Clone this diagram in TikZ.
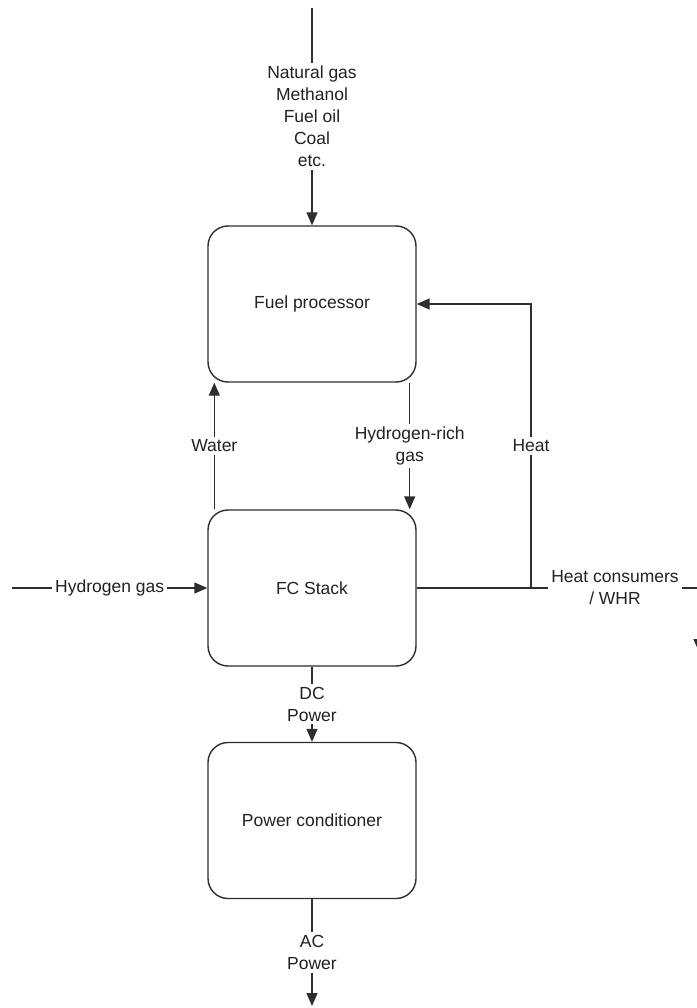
\documentclass[tikz,border=0pt]{standalone}
\usepackage{fontspec}
\setmainfont{Liberation Sans}
\usetikzlibrary{arrows.meta}
\definecolor{linec}{HTML}{2E2E2E}
\definecolor{textc}{HTML}{222222}
\begin{document}
\begin{tikzpicture}[x=1pt,y=-1pt,
  every node/.style={font=\fontsize{17.5}{22}\selectfont, text=textc},
  box/.style={draw=linec, line width=1.4pt, rounded corners=20pt, minimum width=208pt, minimum height=156pt, fill=white},
  conn/.style={draw=linec, line width=1.4pt},
  arr/.style={conn, -{Triangle[length=13pt,width=11pt]}},
  lbl/.style={fill=white, inner sep=3pt, align=center}]
\useasboundingbox (0,0) rectangle (696,1008);
\node[box] (fp) at (312,304) {Fuel processor};
\node[box] (fc) at (312,588) {FC Stack};
\node[box] (pc) at (312,820.5) {Power conditioner};
\coordinate (src) at (312,8);
\coordinate (hin) at (12,588);
\coordinate (hj) at (531,588);
\coordinate (out) at (699,588);
\coordinate (outd) at (699,652);
\coordinate (acout) at (312,1006);
\draw[arr] (src) -- node[lbl]{Natural gas\\Methanol\\Fuel oil\\Coal\\etc.} (fp.north);
\draw[arr] ([xshift=7pt]fc.north west) -- node[lbl]{Water} ([xshift=7pt]fp.south west);
\draw[arr] ([xshift=-7pt]fp.south east) -- node[lbl]{Hydrogen-rich\\gas} ([xshift=-7pt]fc.north east);
\draw[arr] (hin) -- node[lbl]{Hydrogen gas} (fc.west);
\draw[arr] (hj) -- node[lbl]{Heat} (hj |- fp.east) -- (fp.east);
\draw[arr] (fc.east) -- (hj) -- node[lbl]{Heat consumers\\/ WHR} (out) -- (outd);
\draw[arr] (fc.south) -- node[lbl]{DC\\Power} (pc.north);
\draw[arr] (pc.south) -- node[lbl]{AC\\Power} (acout);
\end{tikzpicture}
\end{document}
